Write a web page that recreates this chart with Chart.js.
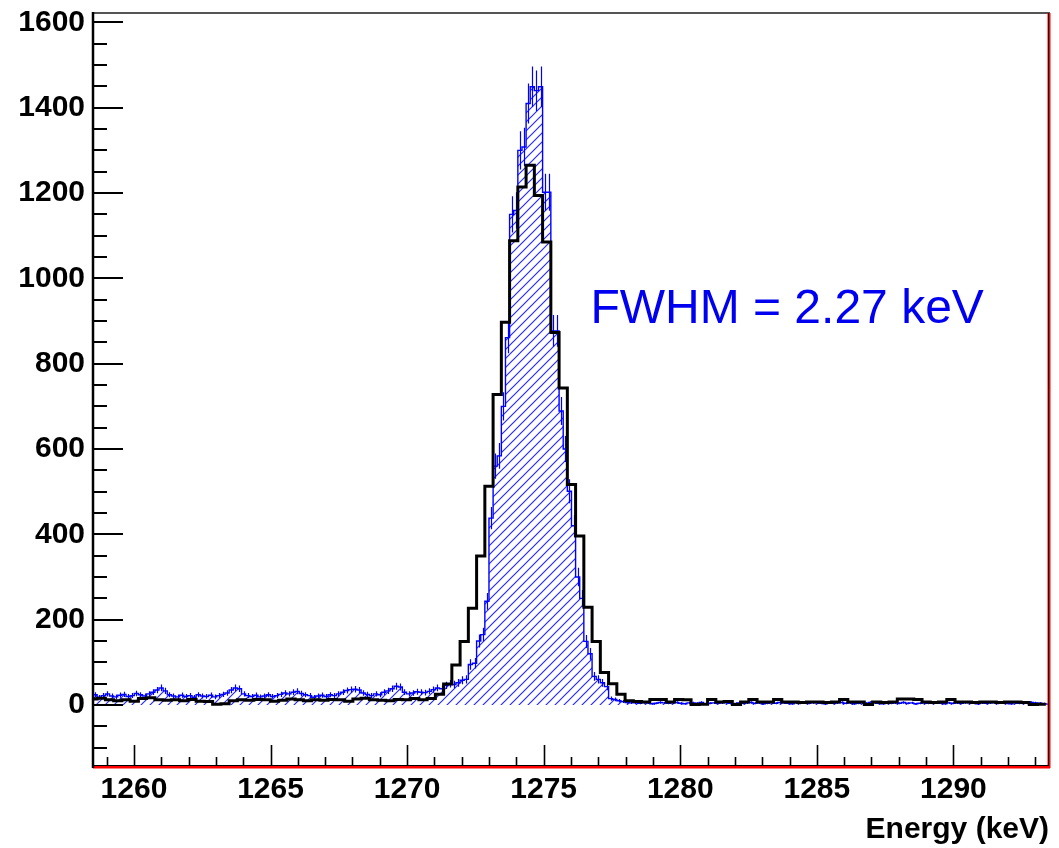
<!DOCTYPE html>
<html><head><meta charset="utf-8">
<script src="https://cdn.jsdelivr.net/npm/chart.js@4/dist/chart.umd.min.js"></script>
<style>html,body{margin:0;padding:0;background:#fff;}#wrap{width:1059px;height:848px;}</style>
</head><body><div id="wrap"><canvas id="c" width="1059" height="848"></canvas></div>
<script>
// ---- data ----
const blackBinStart = 1258.35;   // keV, lower edge of first bin
const blackBinWidth = 0.302;     // keV
const blackCounts = [
  14,16,12,10,12,9,15,17,12,11,
  12,10,13,9,8,2,3,10,12,11,
  13,12,9,11,14,12,10,12,11,13,
  12,9,14,16,12,11,10,13,12,15,
  12,
  15,25,49,94,149,227,349,513,728,897,1088,1214,1265,1194,1085,873,743,517,396,229,149,76,50,25,10,
  8,7,13,13,7,13,12,1,2,13,7,8,1,7,13,7,7,13,7,7,6,7,7,6,7,13,7,7,1,7,6,7,14,14,13,7,6,7,13,7,7,6,7,7,6,7,7,6,1,2
];
const blueBinStart = 1258.35;
const blueBinWidth = 0.151;
const blueCounts = [
  20,24,18,22,26,21,19,23,25,20,
  22,27,24,21,26,30,35,40,33,24,
  21,19,23,20,22,18,24,21,20,23,
  19,22,25,28,35,40,38,26,22,20,
  23,19,21,24,20,22,25,28,26,30,
  32,27,24,22,18,21,23,20,24,22,
  26,30,34,36,37,35,28,25,22,26,
  24,30,33,38,44,42,30,26,28,31,
  30,29,
  32,36,40,38,46,50,48,52,58,60,95,98,150,165,243,438,560,584,700,861,
  1150,1159,1300,1308,1410,1449,1440,1449,1202,1202,877,877,689,600,501,420,300,250,149,120,67,60,52,43,15,13,10,8,6,5,
  5,4,6,5,3,4,6,5,4,5,
  6,4,3,5,5,4,6,3,4,5,
  4,5,6,4,3,5,4,5,6,4,
  5,3,4,5,4,6,5,4,3,5,
  4,5,4,6,5,4,3,5,4,5,
  6,4,5,3,4,5,4,6,5,4,
  3,5,4,5,4,6,4,5,3,4,
  5,4,6,5,4,3,5,4,5,4,
  6,5,4,3,5,4,5,6,4,5,
  4,3,5,4,5,4,6,5,4,3,
  2,3
];
const errScale = 1.25;           // error bar size relative to sqrt(N)
const xRange = [1258.5, 1293.5];
const yRange = [-143, 1622];
const xTickLabels = [1260, 1265, 1270, 1275, 1280, 1285, 1290];
const yTickLabels = [0, 200, 400, 600, 800, 1000, 1200, 1400, 1600];
const xMajorStep = 5, xMinorStep = 1;
const yMajorStep = 200, yMinorStep = 50;
const xTitle = 'Energy (keV)';
const fwhmText = 'FWHM = 2.27 keV';
const fwhmPos = [1276.71, 895];

// ---- build step points (bin lower edges + final upper edge) ----
function steps(start, w, counts) {
  const pts = counts.map((c, i) => ({x: start + i * w, y: c}));
  pts.push({x: start + counts.length * w, y: counts[counts.length - 1]});
  return pts;
}

// hatch pattern
const pc = document.createElement('canvas');
pc.width = 9; pc.height = 9;
const g = pc.getContext('2d');
g.strokeStyle = '#2a2aff'; g.lineWidth = 1.2;
g.beginPath();
g.moveTo(-1, 10); g.lineTo(10, -1);
g.moveTo(-1, 1); g.lineTo(1, -1);
g.moveTo(8, 10); g.lineTo(10, 8);
g.stroke();
const hatch = document.getElementById('c').getContext('2d').createPattern(pc, 'repeat');

const FONT = '"Liberation Sans", Arial, sans-serif';

const rootPlugin = {
  id: 'rootStyle',
  afterDatasetDraw(chart, args) {
    if (args.index !== 1) return;
    const ctx = chart.ctx, xs = chart.scales.x, ys = chart.scales.y, a = chart.chartArea;
    ctx.save();
    ctx.beginPath(); ctx.rect(a.left, a.top, a.right - a.left, a.bottom - a.top); ctx.clip();
    ctx.strokeStyle = '#0000ff'; ctx.lineWidth = 1.2;
    ctx.beginPath();
    blueCounts.forEach((c, i) => {
      const xc = Math.round(xs.getPixelForValue(blueBinStart + (i + 0.5) * blueBinWidth)) + 0.5;
      const e = Math.sqrt(Math.max(c, 0)) * errScale;
      ctx.moveTo(xc, ys.getPixelForValue(c - e));
      ctx.lineTo(xc, ys.getPixelForValue(c + e));
    });
    ctx.stroke();
    ctx.restore();
  },
  afterDraw(chart) {
    const ctx = chart.ctx, xs = chart.scales.x, ys = chart.scales.y, a = chart.chartArea;
    ctx.save();
    // tick marks (inside)
    ctx.strokeStyle = '#000';
    ctx.lineWidth = 2;
    ctx.beginPath();
    for (let v = Math.ceil(yRange[0] / yMinorStep) * yMinorStep; v <= yRange[1]; v += yMinorStep) {
      const y = Math.round(ys.getPixelForValue(v));
      const len = (v % yMajorStep === 0) ? 30 : 14;
      ctx.moveTo(a.left, y); ctx.lineTo(a.left + len, y);
    }
    ctx.stroke();
    ctx.lineWidth = 1.6;
    ctx.beginPath();
    for (let v = Math.ceil(xRange[0] / xMinorStep) * xMinorStep; v <= xRange[1]; v += xMinorStep) {
      const x = Math.round(xs.getPixelForValue(v)) + 0.5;
      const len = (v % xMajorStep === 0) ? 21 : 9;
      ctx.moveTo(x, a.bottom); ctx.lineTo(x, a.bottom - len);
    }
    ctx.stroke();
    // frame
    ctx.lineWidth = 2;
    ctx.strokeStyle = '#555';
    ctx.beginPath(); ctx.moveTo(a.left, a.top); ctx.lineTo(a.right + 1, a.top); ctx.stroke();
    ctx.strokeStyle = '#ff0000'; ctx.lineWidth = 3;
    ctx.beginPath(); ctx.moveTo(a.right, a.top); ctx.lineTo(a.right, a.bottom + 2); ctx.stroke();
    ctx.beginPath(); ctx.moveTo(a.left, a.bottom + 1); ctx.lineTo(a.right + 1, a.bottom + 1); ctx.stroke();
    ctx.strokeStyle = '#000'; ctx.lineWidth = 1;
    ctx.beginPath(); ctx.moveTo(a.right - 0.5, a.top); ctx.lineTo(a.right - 0.5, a.bottom); ctx.stroke();
    ctx.beginPath(); ctx.moveTo(a.left, a.bottom - 0.5); ctx.lineTo(a.right, a.bottom - 0.5); ctx.stroke();
    ctx.lineWidth = 2.5;
    ctx.beginPath(); ctx.moveTo(a.left, a.top - 1); ctx.lineTo(a.left, a.bottom + 2); ctx.stroke();
    // annotation
    ctx.fillStyle = '#0000f0';
    ctx.font = '48px ' + FONT;
    ctx.textAlign = 'left'; ctx.textBaseline = 'alphabetic';
    ctx.fillText(fwhmText, xs.getPixelForValue(fwhmPos[0]), ys.getPixelForValue(fwhmPos[1]));
    ctx.restore();
  }
};

function zeroPad(s) { s.paddingTop = 0; s.paddingBottom = 0; s.paddingLeft = 0; s.paddingRight = 0; }

new Chart(document.getElementById('c'), {
  type: 'line',
  data: {
    datasets: [
      { label: 'data', data: steps(blackBinStart, blackBinWidth, blackCounts),
        stepped: true, borderColor: '#000', borderWidth: 3, pointRadius: 0, fill: false, clip: 0 },
      { label: 'sim', data: steps(blueBinStart, blueBinWidth, blueCounts),
        stepped: true, borderColor: '#0000ff', borderWidth: 1.4, pointRadius: 0,
        backgroundColor: hatch, fill: 'origin', clip: 0 }
    ]
  },
  options: {
    responsive: false, animation: false, devicePixelRatio: 1,
    layout: { padding: { top: 13, right: 10, left: 0, bottom: 0 } },
    plugins: { legend: { display: false }, tooltip: { enabled: false } },
    scales: {
      x: {
        type: 'linear', min: xRange[0], max: xRange[1],
        grid: { display: false, drawTicks: false }, border: { display: false },
        afterBuildTicks: s => { s.ticks = xTickLabels.map(v => ({ value: v })); },
        ticks: { autoSkip: false, maxRotation: 0, minRotation: 0,
                 callback: v => String(v),
                 color: '#000', padding: 6, font: { family: FONT, weight: 'bold', size: 30 } },
        title: { display: true, text: xTitle, align: 'end', color: '#000', padding: 0,
                 font: { family: FONT, weight: 'bold', size: 30 } },
        afterFit: s => { s.height = 82; zeroPad(s); }
      },
      y: {
        type: 'linear', min: yRange[0], max: yRange[1],
        grid: { display: false, drawTicks: false }, border: { display: false },
        afterBuildTicks: s => { s.ticks = yTickLabels.map(v => ({ value: v })); },
        ticks: { autoSkip: false, callback: v => String(v), color: '#000', padding: 8,
                 font: { family: FONT, weight: 'bold', size: 30 } },
        afterFit: s => { s.width = 93; zeroPad(s); }
      }
    }
  },
  plugins: [rootPlugin]
});
</script></body></html>
